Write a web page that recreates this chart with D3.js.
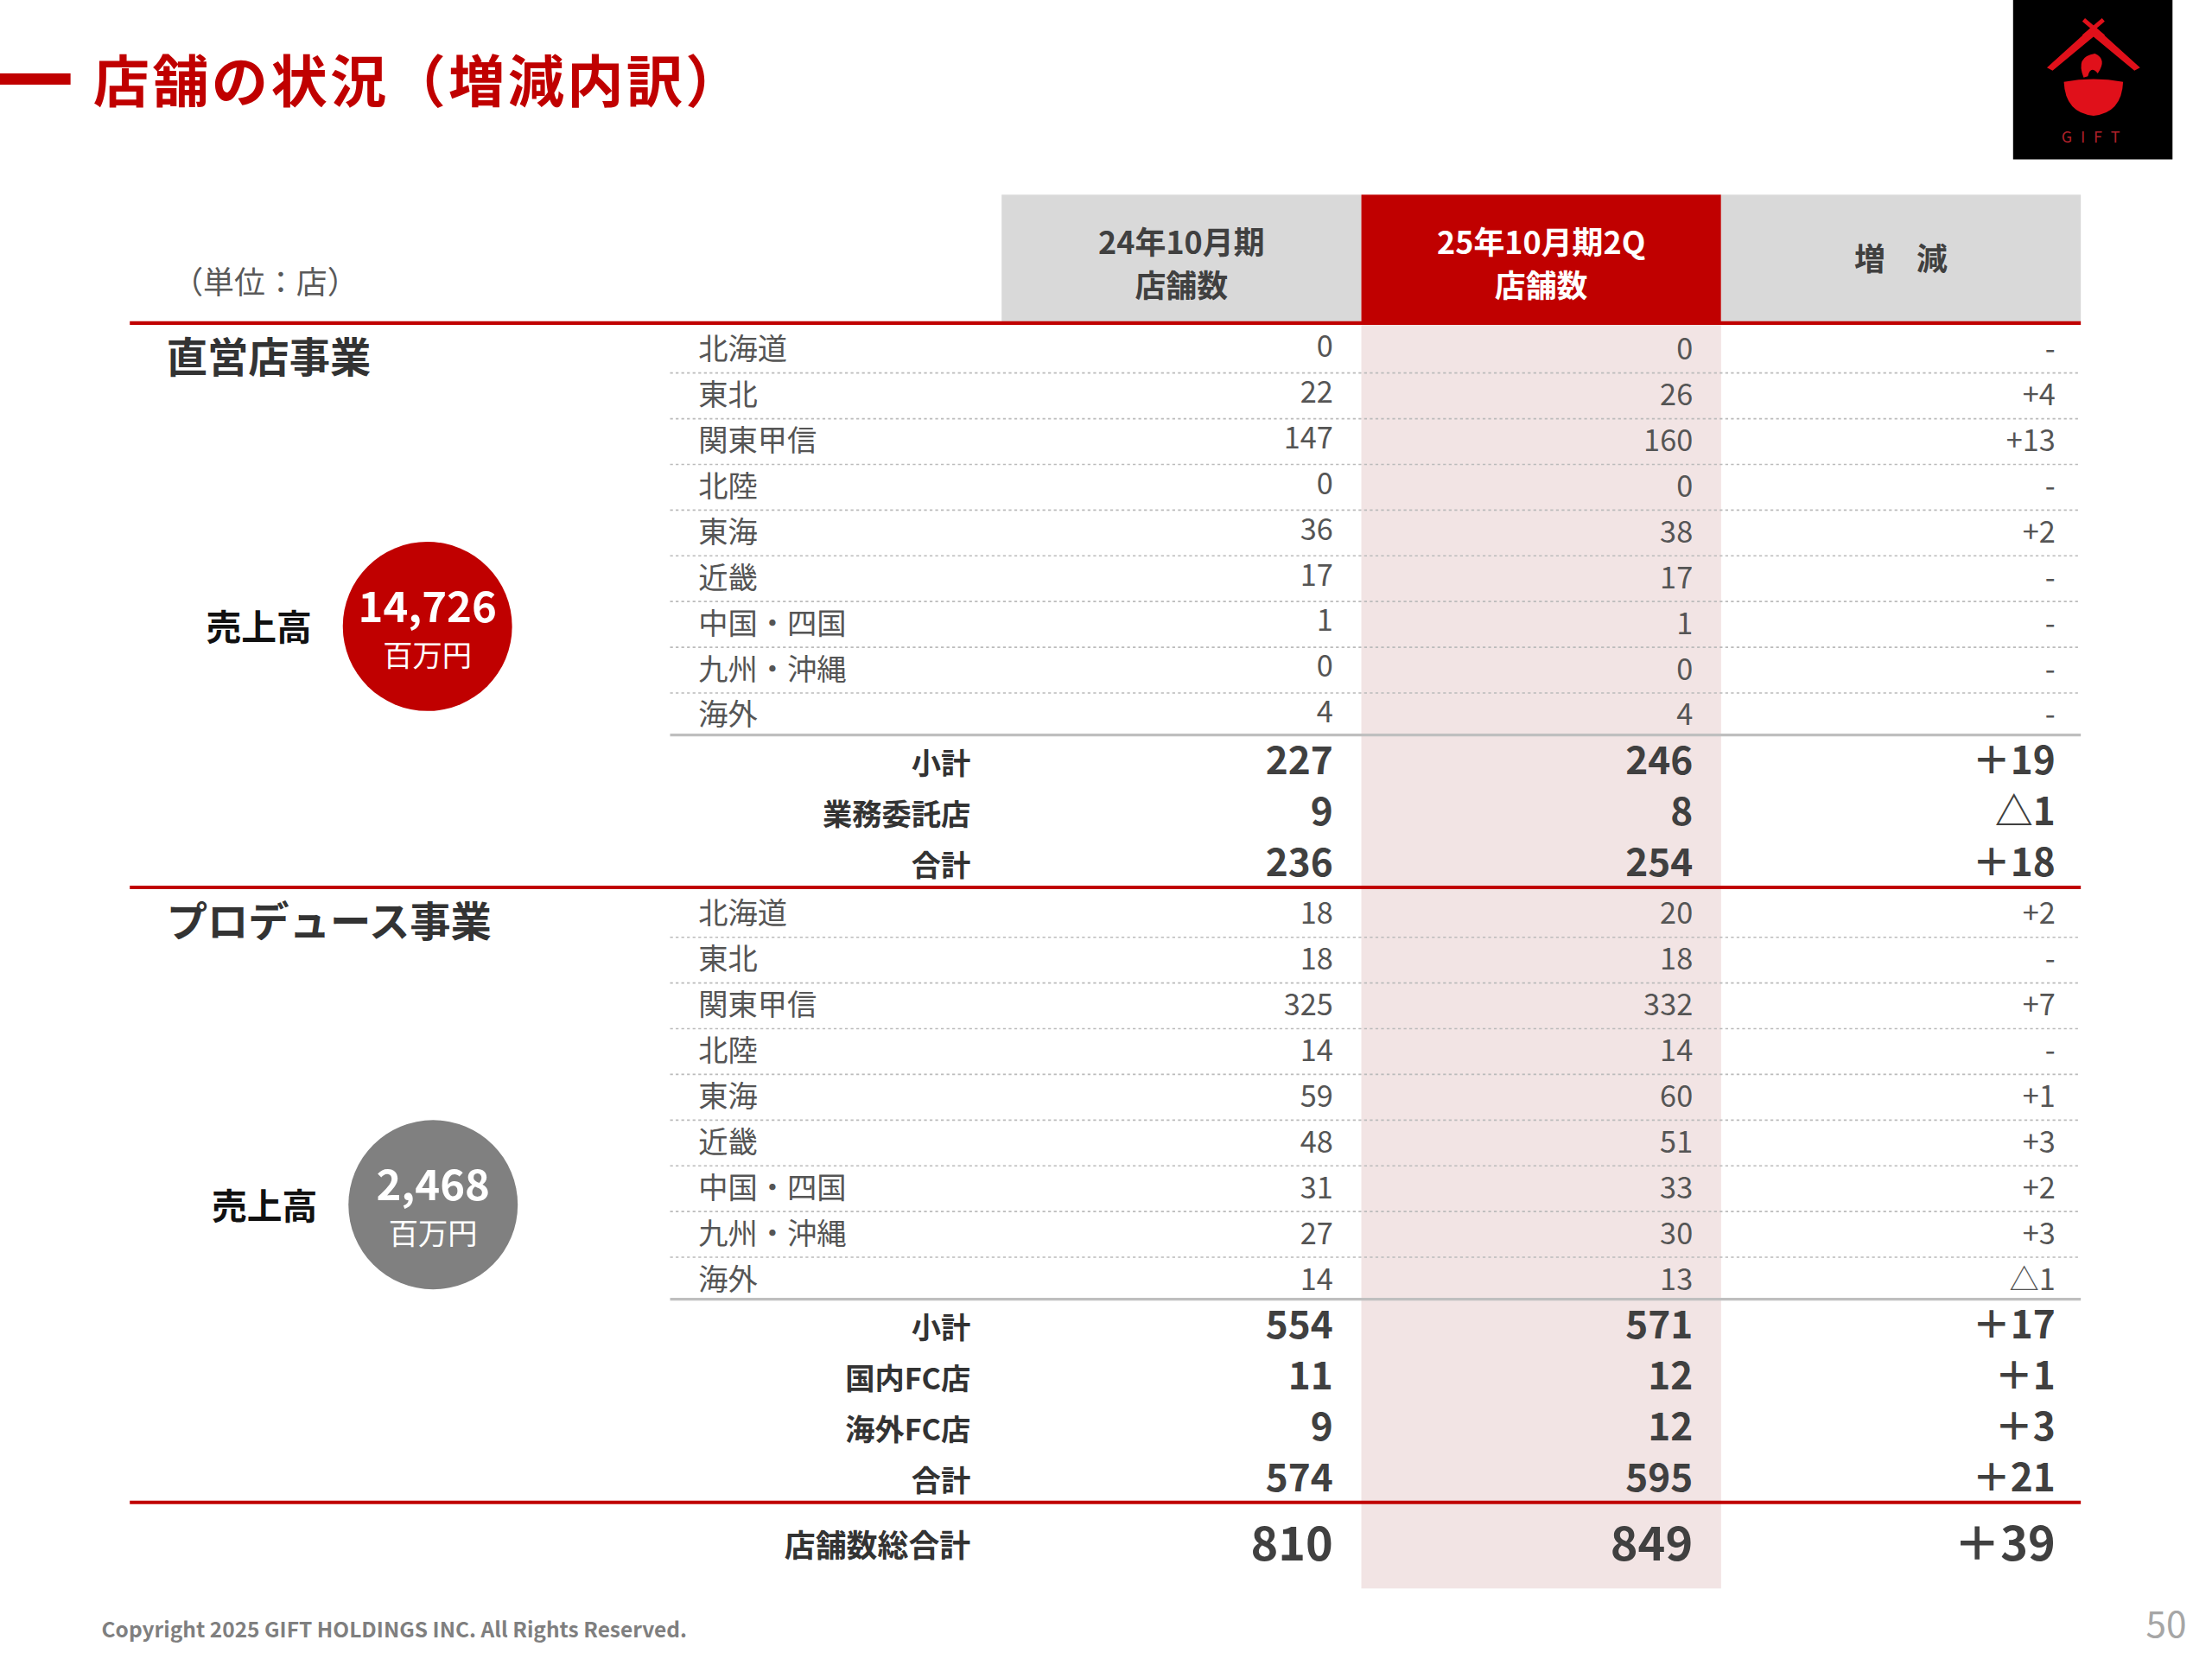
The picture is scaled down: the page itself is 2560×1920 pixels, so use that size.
<!DOCTYPE html>
<html><head><meta charset="utf-8">
<script src="https://cdn.jsdelivr.net/npm/d3@7"></script>
<style>body{margin:0;background:#fff}svg{display:block}text{font-family:"Noto Sans CJK JP","Noto Sans",sans-serif}</style>
</head><body><svg id="c" width="2560" height="1920" viewBox="0 0 1568 1176"></svg>
<script>
const regions=["北海道","東北","関東甲信","北陸","東海","近畿","中国・四国","九州・沖縄","海外"];
const direct24=[0,22,147,0,36,17,1,0,4];
const direct25=[0,26,160,0,38,17,1,0,4];
const directSumLabels=["小計","業務委託店","合計"];
const directSum24=[227,9,236];
const directSum25=[246,8,254];
const produce24=[18,18,325,14,59,48,31,27,14];
const produce25=[20,18,332,14,60,51,33,30,13];
const produceSumLabels=["小計","国内FC店","海外FC店","合計"];
const produceSum24=[554,11,9,574];
const produceSum25=[571,12,12,595];
const grandTotal=[810,849];
const headers=["24年10月期\n店舗数","25年10月期2Q\n店舗数","増　減"];
const sales=[{v:"14,726",u:"百万円"},{v:"2,468",u:"百万円"}];

const svg=d3.select("#c");
const RED="#c00000", DARK="#333", GRAY="#555";
const fmtD=d=>d===0?"-":(d>0?"+"+d:"△"+(-d));
const x=d3.scaleBand().domain([0,1,2]).range([710,1475]);
const valX=i=>x(i)+x.bandwidth()-20;

// title
svg.append("rect").attr("x",0).attr("y",52).attr("width",50).attr("height",8).attr("fill",RED);
svg.append("text").attr("x",66).attr("y",72).attr("font-size",40).attr("letter-spacing",2).attr("font-weight",700).attr("fill",RED).text("店舗の状況（増減内訳）");
// logo
const lg=svg.append("g").attr("transform","translate(1427,0)");
lg.append("rect").attr("width",113).attr("height",113).attr("fill","#000");
lg.append("path").attr("d","M24,48 L57,18 L90,48 L86,50 L57,26 L28,50Z").attr("fill","#e0101a");
lg.append("path").attr("d","M50,14 L64,26 M64,14 L50,26").attr("stroke","#e0101a").attr("stroke-width",3);
lg.append("path").attr("d","M36,58 Q57,54 78,58 Q77,80 57,82 Q37,80 36,58Z").attr("fill","#e0101a");
lg.append("path").attr("d","M50,55 Q44,40 58,38 Q67,42 60,52 Q55,46 53,54Z").attr("fill","#e0101a");
lg.append("text").attr("x",58).attr("y",101).attr("text-anchor","middle").attr("font-size",11).attr("letter-spacing",6).attr("fill","#b0202a").attr("font-family","Liberation Serif,serif").text("GIFT");

// column headers
const hcol=["#d9d9d9",RED,"#d9d9d9"];
headers.forEach((h,i)=>{
  svg.append("rect").attr("x",x(i)).attr("y",138).attr("width",x.bandwidth()).attr("height",90).attr("fill",hcol[i]);
  const lines=h.split("\n");
  lines.forEach((l,j)=>svg.append("text").attr("x",x(i)+x.bandwidth()/2).attr("y",lines.length==1?192:(180+j*31))
    .attr("text-anchor","middle").attr("font-size",22).attr("font-weight",700).attr("fill",i==1?"#fff":"#404040").text(l));
});
svg.append("rect").attr("x",x(1)).attr("y",228).attr("width",x.bandwidth()).attr("height",898).attr("fill","#f2e4e4");
svg.append("text").attr("x",122).attr("y",208).attr("font-size",22).attr("fill","#595959").text("（単位：店）");

function hline(y,c,w,dash,x1){const l=svg.append("line").attr("x1",x1||(dash?475:92)).attr("x2",1475).attr("y1",y).attr("y2",y).attr("stroke",c).attr("stroke-width",w);if(dash)l.attr("stroke-dasharray","2,2");return l;}

const rowY=d3.scaleLinear().domain([0,1]).range([0,32.4]);
function section(top,title,a,b,sumLabels,s24,s25,sale,circleColor,cy){
  hline(top-2,RED,2.5);
  svg.append("text").attr("x",118).attr("y",top+33).attr("font-size",29).attr("font-weight",700).attr("fill",DARK).text(title);
  regions.forEach((r,i)=>{
    const y=top+24+rowY(i);
    svg.append("text").attr("x",495).attr("y",y).attr("font-size",21).attr("fill",GRAY).text(r);
    [a[i],b[i]].forEach((v,k)=>svg.append("text").attr("x",valX(k)).attr("y",y+(k==0&&top<600?-2:0)).attr("text-anchor","end").attr("font-size",21).attr("fill",GRAY).text(v));
    svg.append("text").attr("x",valX(2)+2).attr("y",y).attr("text-anchor","end").attr("font-size",21).attr("fill",GRAY).text(fmtD(b[i]-a[i]));
    if(i<8) hline(top+32.4*(i+1)+1,"#bbb",1,true);
  });
  const gl=top+290; hline(gl,"#bfbfbf",2,false,475);
  sumLabels.forEach((l,i)=>{
    const y=gl+28+36*i;
    svg.append("text").attr("x",688).attr("y",y).attr("text-anchor","end").attr("font-size",21).attr("font-weight",700).attr("fill",DARK).text(l);
    [s24[i],s25[i]].forEach((v,k)=>svg.append("text").attr("x",valX(k)).attr("y",y).attr("text-anchor","end").attr("font-size",27).attr("font-weight",700).attr("fill","#404040").text(v));
    svg.append("text").attr("x",valX(2)+2).attr("y",y).attr("text-anchor","end").attr("font-size",27).attr("font-weight",700).attr("fill","#404040").text(fmtD(s25[i]-s24[i]).replace("+","＋"));
  });
  const cx=cy.x;
  svg.append("text").attr("x",cx-82).attr("y",cy.y+10).attr("text-anchor","end").attr("font-size",25).attr("font-weight",700).attr("fill","#111").text("売上高");
  svg.append("circle").attr("cx",cx).attr("cy",cy.y).attr("r",60).attr("fill",circleColor);
  svg.append("text").attr("x",cx).attr("y",cy.y-3).attr("text-anchor","middle").attr("font-size",30).attr("font-weight",700).attr("fill","#fff").text(sale.v);
  svg.append("text").attr("x",cx).attr("y",cy.y+28).attr("text-anchor","middle").attr("font-size",21).attr("fill","#fff").text(sale.u);
}
section(231,"直営店事業",direct24,direct25,directSumLabels,directSum24,directSum25,sales[0],RED,{x:303,y:444});
section(631,"プロデュース事業",produce24,produce25,produceSumLabels,produceSum24,produceSum25,sales[1],"#808080",{x:307,y:854});
hline(1065,RED,2.5);
svg.append("text").attr("x",688).attr("y",1104).attr("text-anchor","end").attr("font-size",22).attr("font-weight",700).attr("fill",DARK).text("店舗数総合計");
grandTotal.forEach((v,k)=>svg.append("text").attr("x",valX(k)).attr("y",1106).attr("text-anchor","end").attr("font-size",33).attr("font-weight",700).attr("fill","#404040").text(v));
svg.append("text").attr("x",valX(2)+2).attr("y",1106).attr("text-anchor","end").attr("font-size",33).attr("font-weight",700).attr("fill","#404040").text("＋"+(grandTotal[1]-grandTotal[0]));

svg.append("text").attr("x",72).attr("y",1161).attr("font-size",15).attr("font-weight",700).attr("fill","#7f7f7f").text("Copyright 2025 GIFT HOLDINGS INC. All Rights Reserved.");
svg.append("text").attr("x",1550).attr("y",1161).attr("text-anchor","end").attr("font-size",26).attr("fill","#a6a6a6").text("50");
</script></body></html>
